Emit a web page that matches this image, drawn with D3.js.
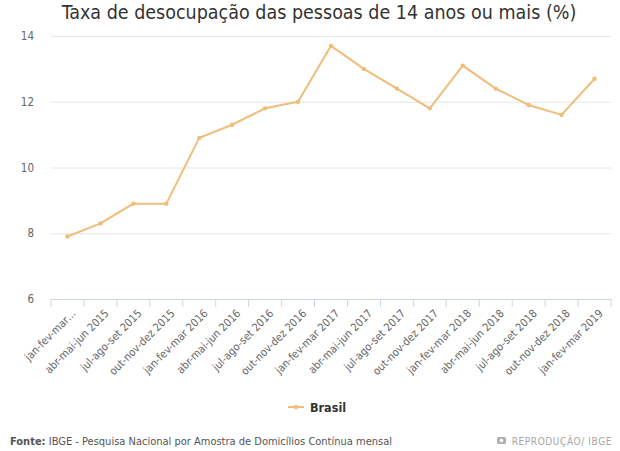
<!DOCTYPE html>
<html>
<head>
<meta charset="utf-8">
<script src="https://cdn.jsdelivr.net/npm/d3@7"></script>
<style>
  body { margin: 0; background: #fff; }
  text { font-family: "DejaVu Sans Condensed", "DejaVu Sans", sans-serif; }
</style>
</head>
<body>
<div id="chart"></div>
<script>
// trimestres moveis
const periodos = [
    "jan-fev-mar…", "abr-mai-jun 2015", "jul-ago-set 2015", "out-nov-dez 2015",
    "jan-fev-mar 2016", "abr-mai-jun 2016", "jul-ago-set 2016", "out-nov-dez 2016",
    "jan-fev-mar 2017", "abr-mai-jun 2017", "jul-ago-set 2017", "out-nov-dez 2017",
    "jan-fev-mar 2018", "abr-mai-jun 2018", "jul-ago-set 2018", "out-nov-dez 2018",
    "jan-fev-mar 2019"
];
const brasil = [7.9, 8.3, 8.9, 8.9, 10.9, 11.3, 11.8, 12.0, 13.7, 13.0, 12.4, 11.8, 13.1, 12.4, 11.9, 11.6, 12.7];
const yTicks = [6, 8, 10, 12, 14];

const width = 620, height = 451;
const margin = {top: 36, right: 9, bottom: 152, left: 51};
const innerW = width - margin.left - margin.right;
const innerH = height - margin.top - margin.bottom;
const lineColor = "#f0bc7a";
const fontCond = "DejaVu Sans Condensed, DejaVu Sans, sans-serif";

const svg = d3.select("#chart").append("svg")
    .attr("width", width)
    .attr("height", height);

// title
svg.append("text")
    .attr("x", width / 2 + 9)
    .attr("y", 19)
    .attr("text-anchor", "middle")
    .attr("font-size", 19.5)
    .attr("fill", "#333")
    .text("Taxa de desocupação das pessoas de 14 anos ou mais (%)");

const g = svg.append("g")
    .attr("transform", `translate(${margin.left}, ${margin.top})`);

const x = d3.scaleBand().domain(periodos).range([0, innerW]);
const y = d3.scaleLinear().domain([6, 14]).range([innerH, 0]);

// gridlines + y labels
const yAxis = g.append("g")
    .call(d3.axisLeft(y).tickValues(yTicks).tickSize(-innerW).tickPadding(17));
yAxis.select(".domain").remove();
yAxis.selectAll(".tick line").attr("stroke", "#e6e6e6");
yAxis.selectAll(".tick text")
    .attr("fill", "#666")
    .attr("font-size", 11.5)
    .attr("font-family", fontCond);

// x axis
const xAxis = g.append("g")
    .attr("transform", `translate(0, ${innerH})`)
    .call(d3.axisBottom(x).tickSize(0));
xAxis.select(".domain").attr("stroke", "#ccd6eb");

// tick marks at band boundaries
const bounds = periodos.map(p => x(p)).concat([innerW]);
xAxis.selectAll(".bound")
    .data(bounds)
    .enter().append("line")
    .attr("class", "bound")
    .attr("x1", d => d).attr("x2", d => d)
    .attr("y1", 0).attr("y2", 8)
    .attr("stroke", "#ccd6eb");

xAxis.selectAll(".tick text")
    .attr("fill", "#666")
    .attr("font-size", 11)
    .attr("font-family", fontCond)
    .attr("text-anchor", "end")
    .attr("dy", 0)
    .attr("transform", "translate(7, 13) rotate(-45)");

// line
const line = d3.line()
    .x((d, i) => x(periodos[i]) + x.bandwidth() / 2)
    .y(d => y(d));

g.append("path")
    .datum(brasil)
    .attr("fill", "none")
    .attr("stroke", lineColor)
    .attr("stroke-width", 2)
    .attr("stroke-linejoin", "round")
    .attr("d", line);

g.selectAll(".pt")
    .data(brasil)
    .enter().append("circle")
    .attr("class", "pt")
    .attr("cx", (d, i) => x(periodos[i]) + x.bandwidth() / 2)
    .attr("cy", d => y(d))
    .attr("r", 2.2)
    .attr("fill", lineColor);

// legend
const leg = svg.append("g").attr("transform", "translate(288, 407)");
leg.append("line")
    .attr("x1", 0).attr("x2", 16)
    .attr("stroke", lineColor)
    .attr("stroke-width", 2);
leg.append("circle").attr("cx", 8).attr("r", 2.2).attr("fill", lineColor);
leg.append("text")
    .attr("x", 22)
    .attr("y", 5)
    .attr("font-size", 12.5)
    .attr("font-weight", "bold")
    .attr("fill", "#333")
    .text("Brasil");

// footer
const foot = svg.append("text")
    .attr("x", 10)
    .attr("y", 445)
    .attr("font-size", 11)
    .attr("fill", "#555");
foot.append("tspan").attr("font-weight", "bold").text("Fonte:");
foot.append("tspan").text(" IBGE - Pesquisa Nacional por Amostra de Domicílios Contínua mensal");

svg.append("rect")
    .attr("x", 497).attr("y", 437)
    .attr("width", 9).attr("height", 7)
    .attr("rx", 1.5)
    .attr("fill", "#b0b0b0");
svg.append("circle")
    .attr("cx", 501.5).attr("cy", 440.5).attr("r", 1.8)
    .attr("fill", "#fff");
svg.append("text")
    .attr("x", 612)
    .attr("y", 444.5)
    .attr("text-anchor", "end")
    .attr("font-size", 10)
    .attr("letter-spacing", 0.6)
    .attr("fill", "#a5a5a5")
    .text("REPRODUÇÃO/ IBGE");
</script>
</body>
</html>
